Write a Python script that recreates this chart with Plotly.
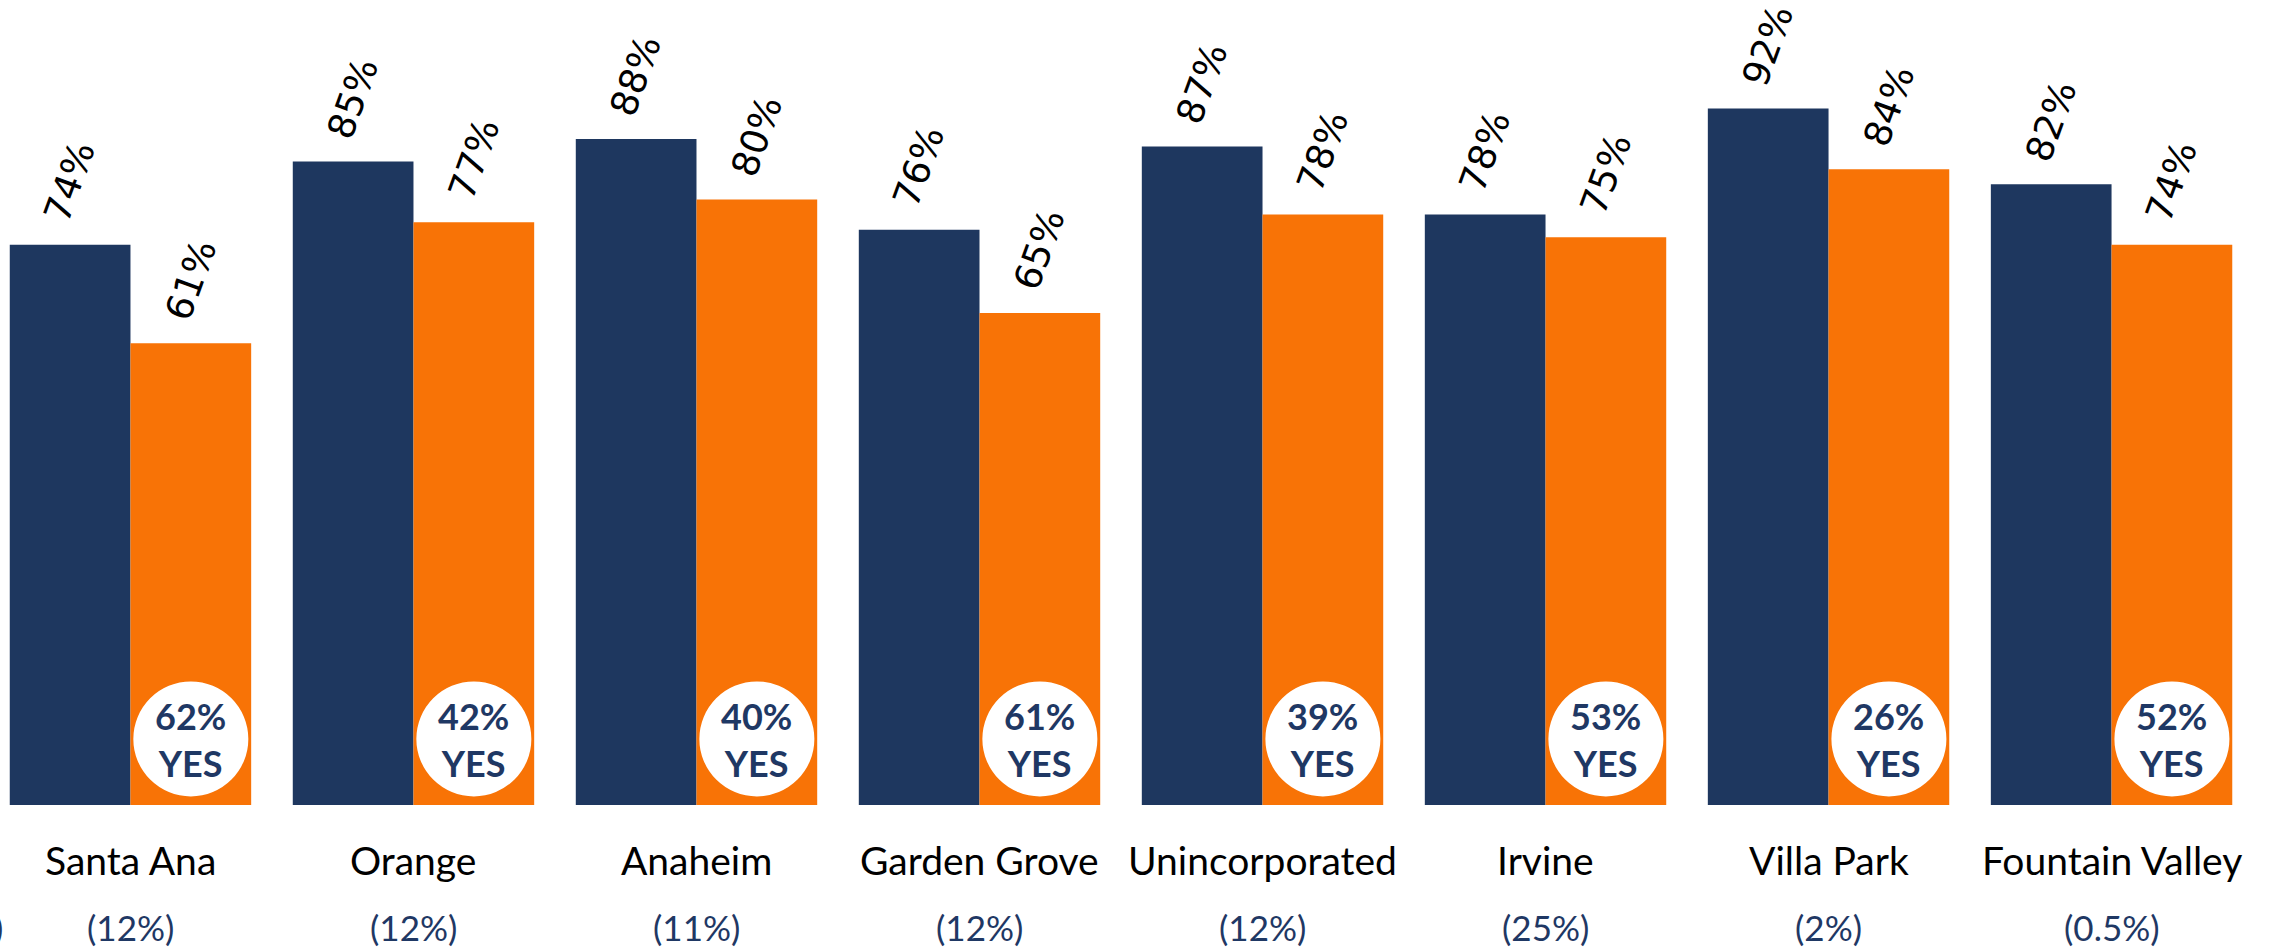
import plotly.graph_objects as go

categories = ["Santa Ana", "Orange", "Anaheim", "Garden Grove", "Unincorporated",
              "Irvine", "Villa Park", "Fountain Valley"]
series_navy = [74, 85, 88, 76, 87, 78, 92, 82]
series_orange = [61, 77, 80, 65, 78, 75, 84, 74]
yes_share = [62, 42, 40, 61, 39, 53, 26, 52]
weight_labels = ["(12%)", "(12%)", "(11%)", "(12%)", "(12%)", "(25%)", "(2%)", "(0.5%)"]

NAVY = "#1E375F"
ORANGE = "#F87306"
TEXT_NAVY = "#1F3864"

W, H = 2274, 947
BOTTOM = 141.7
BAR_OFF = 0.2133  # half of one bar slot within a group

fig = go.Figure()
fig.add_trace(go.Bar(x=categories, y=series_navy, name="Series 1",
                     marker=dict(color=NAVY, line=dict(width=0))))
fig.add_trace(go.Bar(x=categories, y=series_orange, name="Series 2",
                     marker=dict(color=ORANGE, line=dict(width=0))))

annotations = []
shapes = []
for i, cat in enumerate(categories):
    # rotated value labels above the bars
    for off, val in ((-BAR_OFF, series_navy[i]), (BAR_OFF, series_orange[i])):
        annotations.append(dict(
            x=i + off, y=val, xref="x", yref="y", text=f"{val}%",
            showarrow=False, textangle=-70, yshift=63,
            xanchor="center", yanchor="middle",
            font=dict(family="DejaVu Sans", size=37, color="#000000")))
    # white circle with yes share inside the orange bar
    shapes.append(dict(
        type="circle", xref="x", yref="y", xsizemode="pixel", ysizemode="pixel",
        xanchor=i + BAR_OFF, yanchor=0, x0=-57.5, x1=57.5, y0=8.6, y1=123.6,
        fillcolor="white", line=dict(width=0), layer="above"))
    annotations.append(dict(
        x=i + BAR_OFF, y=0, xref="x", yref="y",
        text=f"<b>{yes_share[i]}%</b><br><b>YES</b>",
        showarrow=False, yshift=66, xanchor="center", yanchor="middle",
        font=dict(family="Lato", size=36, color=TEXT_NAVY)))
    # category name and weight below
    annotations.append(dict(
        x=i, y=0, xref="x", yref="y", text=cat, showarrow=False,
        yshift=-55, xanchor="center", yanchor="middle",
        font=dict(family="Lato", size=39, color="#000000")))
    annotations.append(dict(
        x=i, y=0, xref="x", yref="y", text=weight_labels[i], showarrow=False,
        yshift=-122, xanchor="center", yanchor="middle",
        font=dict(family="Lato", size=35, color=TEXT_NAVY)))

# tail of the previous (cropped) category label at the left edge
annotations.append(dict(
    x=0, y=0, xref="paper", yref="y", text=")", showarrow=False,
    xshift=5, yshift=-122, xanchor="right", yanchor="middle",
    font=dict(family="Lato", size=35, color=TEXT_NAVY)))

fig.update_layout(
    width=W, height=H,
    margin=dict(l=0, r=0, t=0, b=BOTTOM, pad=0),
    barmode="group", bargap=0.147, bargroupgap=0,
    showlegend=False,
    plot_bgcolor="white", paper_bgcolor="white",
    annotations=annotations, shapes=shapes,
)
fig.update_xaxes(range=[-0.461, 7.574], showticklabels=False, showgrid=False,
                 zeroline=False, showline=False, ticks="")
fig.update_yaxes(range=[0, 106.35], showticklabels=False, showgrid=False,
                 zeroline=False, showline=False, ticks="")

# drop the default 8px body margin so the figure fills the window exactly
fig.write_html("out.html", config={"displayModeBar": False},
               post_script="document.body.style.margin='0';")
